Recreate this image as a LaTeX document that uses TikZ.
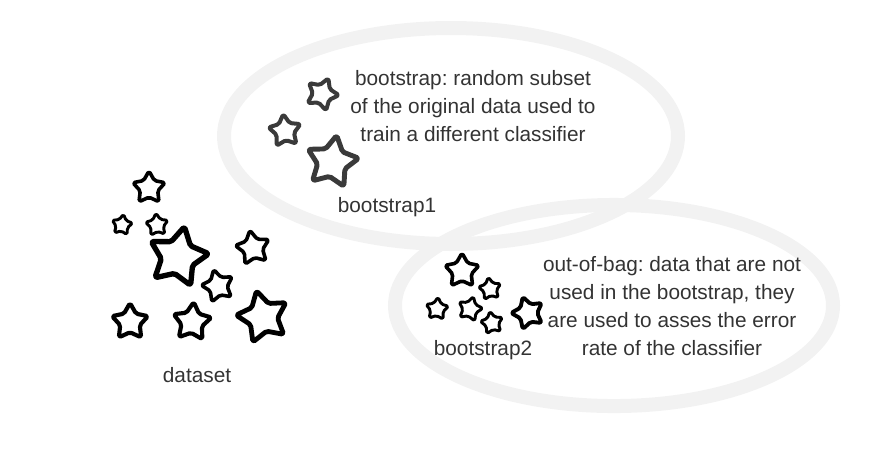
\documentclass[tikz,border=0pt]{standalone}
\usepackage{fontspec}
\usepackage{xcolor}
\usepackage{tikz}
\usetikzlibrary{shapes.geometric}
\setmainfont{Liberation Sans}
\frenchspacing

\definecolor{ringgray}{RGB}{242,242,242}
\definecolor{inkgray}{RGB}{51,51,51}
\definecolor{stargray}{RGB}{58,58,58}

\tikzset{
  ringline/.style={draw=ringgray, line width=10.5pt},
  starshape/.style={star, star points=5, star point ratio=1.85, draw=black, line width=2.7pt, rounded corners=1.4pt, line join=round, inner sep=0pt},
  txt/.style={inner sep=0.75pt, text=inkgray, align=center, font=\fontsize{15.6}{21}\selectfont}
}

\begin{document}
\begin{tikzpicture}[x=0.75pt,y=0.75pt,yscale=-1,xscale=1]

\useasboundingbox (0,0) rectangle (880,458);

\draw [ringline] (614,305.5) ellipse [x radius=164.25pt, y radius=75.4pt] ;

\draw [ringline] (451,136) ellipse [x radius=170.25pt, y radius=81pt] ;

% dataset
\node (d1) at (149,188) [starshape, minimum size=25.5pt, rotate=0] {};
\node (d2) at (122,225) [starshape, minimum size=16.5pt, line width=2.2pt, rotate=-8] {};
\node (d3) at (157,225) [starshape, minimum size=18pt, line width=2.2pt, rotate=5] {};
\node (d4) at (178,257) [starshape, minimum size=46.5pt, line width=4pt, rotate=-12] {};
\node (d5) at (253,248) [starshape, minimum size=27pt, rotate=10] {};
\node (d6) at (218,286) [starshape, minimum size=25.5pt, rotate=15] {};
\node (d7) at (130,322) [starshape, minimum size=28.5pt, line width=3.1pt, rotate=0] {};
\node (d8) at (192,322) [starshape, minimum size=30pt, line width=3.1pt, rotate=-5] {};
\node (d9) at (263,317) [starshape, minimum size=40.5pt, line width=3.6pt, rotate=14] {};

% bootstrap1
\node (b1) at (322,94) [starshape, draw=stargray, minimum size=25.5pt, line width=3pt, rotate=-22] {};
\node (b2) at (285,131) [starshape, draw=stargray, minimum size=25.5pt, line width=3pt, rotate=6] {};
\node (b3) at (332,162) [starshape, draw=stargray, minimum size=40.5pt, line width=3.7pt, rotate=-10] {};

% bootstrap2
\node (o1) at (462,271) [starshape, minimum size=27pt, rotate=0] {};
\node (o2) at (490,289) [starshape, minimum size=18pt, line width=2.2pt, rotate=8] {};
\node (o3) at (437,309) [starshape, minimum size=18pt, line width=2.2pt, rotate=-5] {};
\node (o4) at (470,309) [starshape, minimum size=19.5pt, line width=2.2pt, rotate=-15] {};
\node (o5) at (492,323) [starshape, minimum size=18pt, line width=2.2pt, rotate=10] {};
\node (o6) at (528,313) [starshape, minimum size=25.5pt, line width=2.9pt, rotate=18] {};

\draw (473,106) node (bsnote) [txt] {bootstrap: random subset\\of the original data used to\\train a different classifier};

\draw (387,207) node (bs1) [txt] {bootstrap1};

\draw (672,306) node (oobnote) [txt] {out-of-bag: data that are not\\used in the bootstrap, they\\are used to asses the error\\rate of the classifier};

\draw (483,350) node (bs2) [txt] {bootstrap2};

\draw (197,375) node (dataset) [txt] {dataset};

\end{tikzpicture}
\end{document}
